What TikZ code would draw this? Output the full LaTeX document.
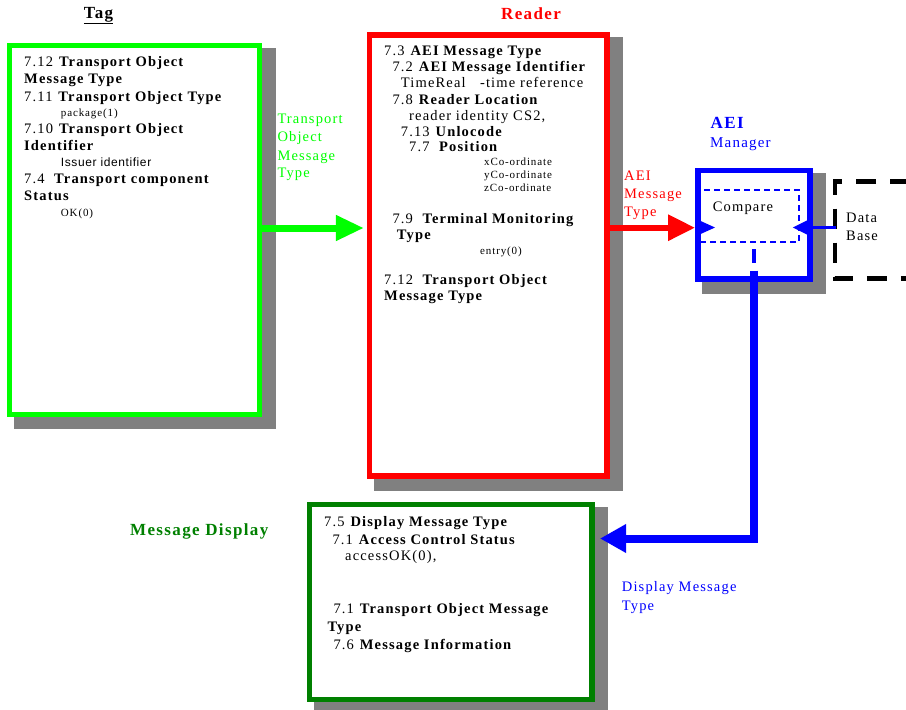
\documentclass[tikz,border=0pt]{standalone}
\usepackage{fontspec}
\setmainfont{Liberation Serif}[LetterSpace=8]
\newfontfamily\sansf{Liberation Sans}[LetterSpace=5]
\usetikzlibrary{arrows.meta,backgrounds,calc}
\definecolor{tgreen}{RGB}{0,255,0}
\definecolor{dgreen}{RGB}{0,128,0}
\definecolor{shgray}{RGB}{128,128,128}
\definecolor{pblue}{RGB}{0,0,255}
\definecolor{pred}{RGB}{255,0,0}
\newcommand\boxshadow[1]{\fill[shgray] ($(#1.north west)+(7,5)$) rectangle ($(#1.south east)+(13.5,12)$);}
\begin{document}
\begin{tikzpicture}[x=1pt,y=-1pt,
  frame/.style={draw, inner sep=0pt, fill=white},
  t/.style={anchor=base west, inner sep=0pt, font=\fontsize{14.5}{17}\selectfont},
  s/.style={anchor=base west, inner sep=0pt, font=\fontsize{11}{13}\selectfont},
  lab/.style={anchor=base west, inner sep=0pt, font=\fontsize{14.5}{17}\selectfont},
  ttl/.style={anchor=base west, inner sep=0pt, font=\fontsize{17}{20}\selectfont\bfseries},
]
\useasboundingbox (0,0) rectangle (906,710);

% ---------- boxes ----------
\node[frame, draw=tgreen, line width=5pt, minimum width=250pt, minimum height=369pt] (tag) at (134.5,230) {};
\node[frame, draw=pred, line width=5.5pt, minimum width=237.7pt, minimum height=440.8pt] (reader) at (488.35,255.4) {};
\node[frame, draw=pblue, line width=5.5pt, minimum width=112pt, minimum height=108.3pt] (aei) at (753.8,224.65) {};
\node[frame, draw=dgreen, line width=5.5pt, minimum width=282.7pt, minimum height=194.8pt] (disp) at (450.85,602.1) {};
\begin{scope}[on background layer]
  \boxshadow{tag}
  \boxshadow{reader}
  \boxshadow{aei}
  \boxshadow{disp}
\end{scope}

% ---------- titles ----------
\node[ttl, anchor=base] (tagttl) at (98.5,18.3) {\underline{Tag}};
\node[ttl, anchor=base, text=pred] (readerttl) at (531,19) {Reader};
\node[ttl, text=pblue] (aeittl) at (710.5,128.3) {AEI};
\node[lab, text=pblue, font=\fontsize{15}{17}\selectfont] (mgr) at (710,147.7) {Manager};
\node[ttl, text=dgreen] (dispttl) at (130,535) {Message Display};

% ---------- Tag text ----------
\node[t] (g1) at (24,66.7) {7.12 \textbf{Transport Object}};
\node[t] (g2) at (24,83.3) {\textbf{Message Type}};
\node[t] (g3) at (24,101.7) {7.11 \textbf{Transport Object Type}};
\node[s] (g4) at (60.7,116.7) {package(1)};
\node[t] (g5) at (24,133.3) {7.10 \textbf{Transport Object}};
\node[t] (g6) at (24,150.7) {\textbf{Identifier}};
\node[s, font=\fontsize{12}{14}\sansf] (g7) at (60.7,166.7) {Issuer identifier};
\node[t] (g8) at (24,183.3) {7.4\ \ \textbf{Transport component}};
\node[t] (g9) at (24,200) {\textbf{Status}};
\node[s] (g10) at (60.7,216) {OK(0)};

% ---------- Reader text ----------
\node[t] (r1) at (384,55.7) {7.3 \textbf{AEI Message Type}};
\node[t] (r2) at (392.3,71.7) {7.2 \textbf{AEI Message Identifier}};
\node[t] (r3) at (400.7,87.3) {TimeReal\ \ \ -time reference};
\node[t] (r4) at (392.3,104) {7.8 \textbf{Reader Location}};
\node[t] (r5) at (409,120) {reader identity CS2,};
\node[t] (r6) at (400.7,136) {7.13 \textbf{Unlocode}};
\node[t] (r7) at (409,151.7) {7.7\ \ \textbf{Position}};
\node[s] (r8) at (484,165) {xCo-ordinate};
\node[s] (r9) at (484,178) {yCo-ordinate};
\node[s] (r10) at (484,191) {zCo-ordinate};
\node[t] (r11) at (392.3,223.3) {7.9\ \ \textbf{Terminal Monitoring}};
\node[t] (r12) at (396.7,239.3) {\textbf{Type}};
\node[s] (r13) at (480,254) {entry(0)};
\node[t] (r14) at (384,284) {7.12\ \ \textbf{Transport Object}};
\node[t] (r15) at (384,300) {\textbf{Message Type}};

% ---------- Display text ----------
\node[t] (d1) at (324,526.7) {7.5 \textbf{Display Message Type}};
\node[t] (d2) at (332.3,544.3) {7.1 \textbf{Access Control Status}};
\node[t] (d3) at (345,560) {accessOK(0),};
\node[t] (d4) at (333.3,613.3) {7.1 \textbf{Transport Object Message}};
\node[t] (d5) at (327.3,631.7) {\textbf{Type}};
\node[t] (d6) at (333.3,649.3) {7.6 \textbf{Message Information}};

% ---------- Compare & Data Base ----------
\node[draw=pblue, line width=2pt, dash pattern=on 6pt off 4pt, inner sep=0pt,
      minimum width=99pt, minimum height=51.7pt] (cmp) at (749.5,215.85) {};
\node[lab] (cmptxt) at (712.7,211) {Compare};
\draw[line width=4.5pt, dash pattern=on 20pt off 14pt] (910,181.5) -| (835,278.7) -- (910,278.7);
\node[lab] (db1) at (846,222.7) {Data};
\node[lab] (db2) at (846,240) {Base};
\coordinate (dbin) at (836,227.5);

% ---------- connector labels ----------
\node[lab, text=tgreen] (lg1) at (277.3,123.3) {Transport};
\node[lab, text=tgreen] (lg2) at (277.3,141.7) {Object};
\node[lab, text=tgreen] (lg3) at (277.3,160) {Message};
\node[lab, text=tgreen] (lg4) at (277.3,177.3) {Type};
\node[lab, text=pred] (lr1) at (624,180.7) {AEI};
\node[lab, text=pred] (lr2) at (624,198.3) {Message};
\node[lab, text=pred] (lr3) at (624,216.7) {Type};
\node[lab, text=pblue] (lb1) at (621.7,591.7) {Display Message};
\node[lab, text=pblue] (lb2) at (621.7,610) {Type};

% ---------- connectors ----------
\draw[tgreen, line width=7pt, -{Triangle[length=28pt,width=24pt]}, shorten >=2.8pt]
  (tag.east |- 0,228) -- (reader.west |- 0,228);
\draw[pred, line width=6pt, -{Triangle[length=27pt,width=25pt]}]
  (reader.east |- 0,227.7) -- (aei.west |- 0,227.7);
\fill[pblue] (700,220.7) -- (715,227.5) -- (700,234.3) -- cycle;
\draw[pblue, line width=3pt, -{Triangle[length=15pt,width=14pt]}] (dbin) -- (792.7,227.5);
\draw[pblue, line width=4pt] (cmp.south -| 754,0) ++(0,6.3) -- ++(0,14);
\coordinate (aeiout) at (754,270.7);
\coordinate (dispin) at (600,538.5);
\draw[pblue, line width=8pt, -{Triangle[length=26pt,width=27pt]}] (aeiout) |- (dispin);
\end{tikzpicture}
\end{document}
